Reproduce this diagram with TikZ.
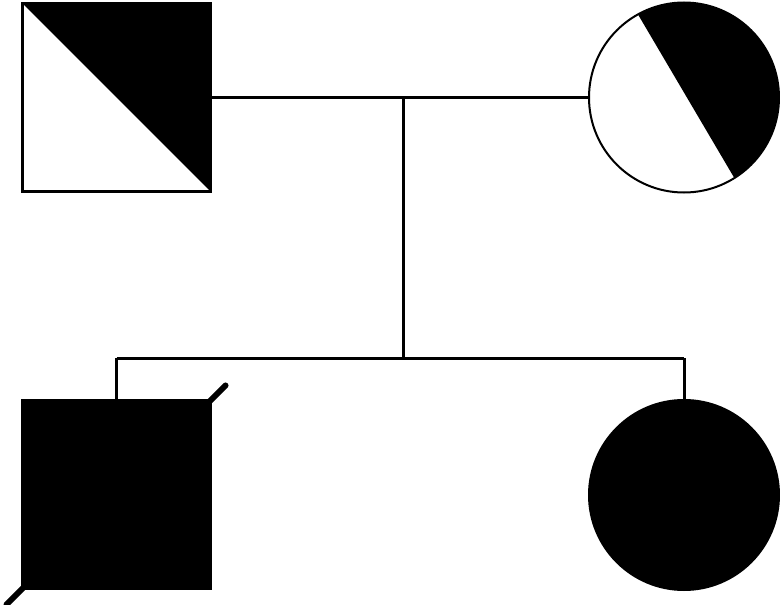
\documentclass[tikz,border=0pt]{standalone}
\usetikzlibrary{calc}
\begin{document}
\begin{tikzpicture}[x=1pt,y=1pt,
  male/.style={draw=black,line width=2.8pt,minimum width=188pt,minimum height=188pt,inner sep=0pt,outer sep=0pt,shape=rectangle,fill=white},
  female/.style={draw=black,line width=2pt,minimum size=190pt,inner sep=0pt,outer sep=0pt,shape=circle,fill=white},
  affected/.style={fill=black},
  link/.style={draw=black,line width=3pt},
  slash/.style={draw=black,line width=6pt,line cap=round}]
\useasboundingbox (0,0) rectangle (780,-605);
% parents
\node[male,path picture={\fill[black] (path picture bounding box.north west) -- (path picture bounding box.north east) -- (path picture bounding box.south east) -- cycle;}] (father) at (116.5,-97.5) {};
\node[female,path picture={\fill[black] ([shift={(119:96)}]path picture bounding box.center) arc[start angle=119,end angle=-58,radius=96] -- cycle;}] (mother) at (684,-97.5) {};
% children
\node[male,affected] (son) at (116.5,-494.5) {};
\node[female,affected] (daughter) at (684,-495) {};
% connectors
\draw[link] (father.east) -- (mother.west);
\coordinate (mid) at (403,-97.5);
\coordinate (sib) at (403,-358);
\draw[link] (mid) -- (sib);
\draw[link] (son.north |- sib) -- (daughter.north |- sib);
\draw[link] (son.north |- sib) -- (son.north);
\draw[link] (daughter.north |- sib) -- (daughter.north);
% deceased slash
\draw[slash] ($(son.south west)!-0.085!(son.north east)$) -- ($(son.north east)!-0.08!(son.south west)$);
\end{tikzpicture}
\end{document}
